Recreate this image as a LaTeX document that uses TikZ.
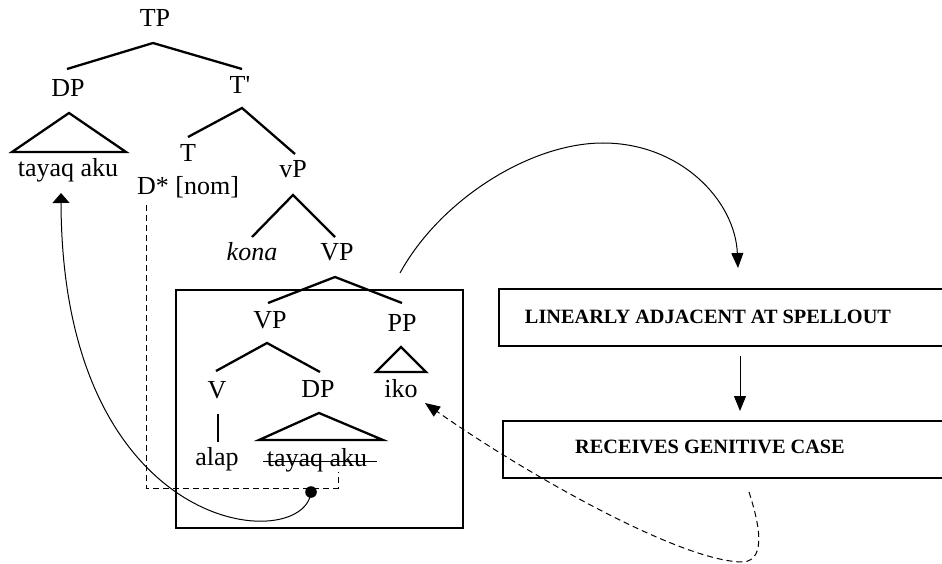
\documentclass[tikz,border=0pt]{standalone}
\usepackage{fontspec}
\setmainfont{Liberation Serif}
\usetikzlibrary{arrows.meta}
\begin{document}
\begin{tikzpicture}[x=1pt,y=-1pt,
  lab/.style={anchor=base,inner sep=0pt,font=\fontsize{26}{30}\selectfont},
  br/.style={line width=2.3pt},
  thinline/.style={line width=1pt},
  dsh/.style={line width=1pt,dash pattern=on 6pt off 4pt},
  tip/.style={-{Triangle[length=15pt,width=12pt]}},
  boxtxt/.style={font=\bfseries\fontsize{20.3}{24}\selectfont,inner sep=0pt,anchor=base},
  framebox/.style={draw,line width=2.2pt,inner sep=0pt,anchor=north west},
]
\useasboundingbox (0,0) rectangle (942,564);
\clip (0,0) rectangle (942,564);
% tree labels
\node[lab] (TP) at (155,27) {TP};
\node[lab] (DP1) at (68,97) {DP};
\node[lab] (Tbar) at (240,94) {T\textquotesingle};
\node[lab] (tay1) at (68,177) {tayaq aku};
\node[lab] (T) at (188,162) {T};
\node[lab] (vP) at (293,178) {vP};
\node[lab] (Dnom) at (188,195) {D* [nom]};
\node[lab] (kona) at (252,260) {\itshape kona};
\node[lab] (VP1) at (337,260) {VP};
\node[lab] (VP2) at (270,328) {VP};
\node[lab] (PP) at (402,331) {PP};
\node[lab] (V) at (217,398) {V};
\node[lab] (DP2) at (318,397) {DP};
\node[lab] (iko) at (401,397) {iko};
\node[lab] (alap) at (217,465) {alap};
\node[lab] (tay2) at (317,466) {tayaq aku};
% branches
\draw[br] (67,69) -- (153,43) -- (242,69);
\draw[br] (12,152) -- (69,113) -- (126,152) -- cycle;
\draw[br] (188,137) -- (242,108) -- (295,154);
\draw[br] (252,237) -- (293,195) -- (335,237);
\draw[br] (268,303) -- (335,277) -- (402,303);
\draw[br] (216,371) -- (267,343) -- (320,372);
\draw[br] (376,372) -- (401,347) -- (426,372) -- cycle;
\draw[br] (218,414) -- (218,442);
\draw[br] (259,440) -- (319,413) -- (383,440) -- cycle;
% strike-through
\draw[line width=1pt] (263,461) -- (377,461);
% frame around lower VP
\node[framebox,minimum width=287pt,minimum height=238pt] (bigbox) at (175,289) {};
% right boxes
\node[framebox,minimum width=480pt,minimum height=57pt] (box1) at (498,288) {};
\node[boxtxt] (t1) at (708,323) {LINEARLY ADJACENT AT SPELLOUT};
\node[framebox,minimum width=480pt,minimum height=57pt] (box2) at (502,420) {};
\node[boxtxt] (t2) at (710,453) {RECEIVES GENITIVE CASE};
% coordinates
\coordinate (vpTop) at (400,273);
\coordinate (arcTop) at (603,143);
\coordinate (b1in) at (738,268);
\coordinate (b1out) at (740,356);
\coordinate (b2in) at (740,411);
\coordinate (b2out) at (749,492);
\coordinate (loopLow) at (743,562);
\coordinate (ikoIn) at (425,403);
\coordinate (dstar) at (146,205);
\coordinate (dcorner1) at (146,488);
\coordinate (dcorner2) at (338,488);
\coordinate (trace) at (338,472);
\coordinate (dot) at (311,492);
\coordinate (tayIn) at (61,193);
% connectors
\draw[thinline,tip] (vpTop) .. controls (440,200) and (530,143) .. (arcTop)
  .. controls (680,143) and (735,200) .. (b1in);
\draw[thinline,tip] (b1out) -- (b2in);
\draw[dsh,tip] (b2out) .. controls (758,520) and (768,560) .. (loopLow)
  .. controls (680,562) and (520,470) .. (ikoIn);
\draw[dsh] (dstar) -- (dcorner1) -- (dcorner2) -- (trace);
\fill (dot) circle (5.8pt);
\draw[thinline,-{Triangle[length=10pt,width=17pt]}] (dot) .. controls (305,555) and (62,540) .. (tayIn);
\end{tikzpicture}
\end{document}
